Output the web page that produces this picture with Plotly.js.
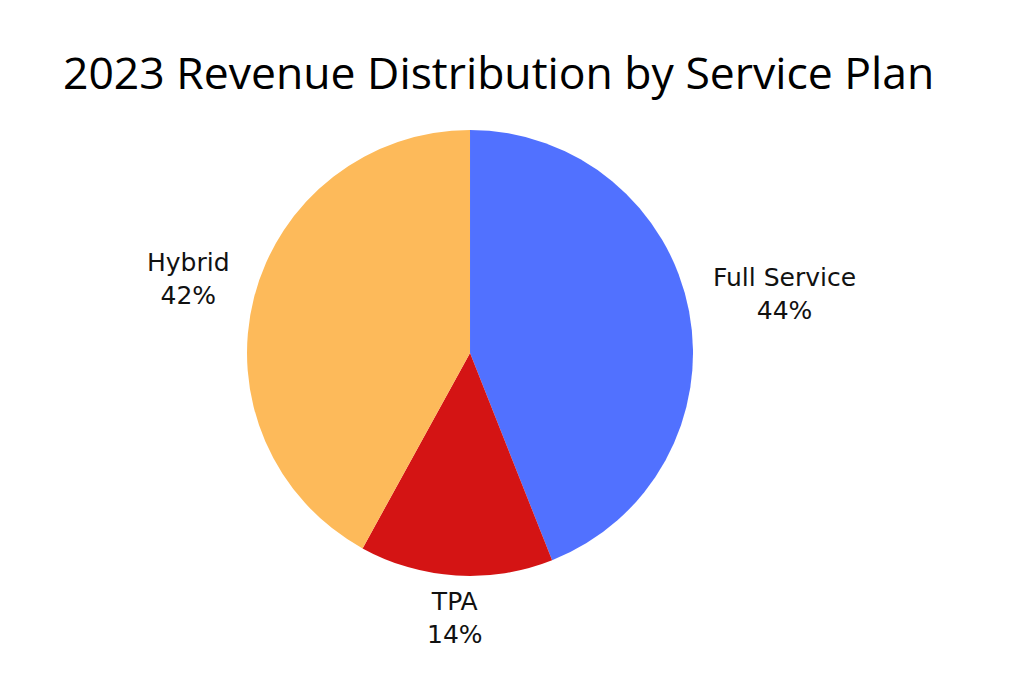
<!DOCTYPE html>
<html>
<head>
<meta charset="utf-8">
<script src="https://cdn.plot.ly/plotly-3.0.1.min.js"></script>
<style>
  html, body { margin: 0; padding: 0; background: #fff; }
  #chart { width: 1024px; height: 683px; }
</style>
</head>
<body>
<div id="chart"></div>
<script>
var plans = ['Full Service', 'TPA', 'Hybrid'];
var shares = [44, 14, 42];
var planColors = ['#5171FF', '#D41414', '#FDBA5A'];

var W = 1024, H = 683;
var pieX = [0.2412, 0.6768], pieY = [0.1567, 0.8097];

// labels sit just outside the rim, along each slice's middle angle
var total = shares.reduce(function (a, b) { return a + b; }, 0);
var cx = (pieX[0] + pieX[1]) / 2 * W;
var cy = (pieY[0] + pieY[1]) / 2 * H;
var r = (pieY[1] - pieY[0]) * H / 2;
var labelDist = 1.1;
var cum = 0;
var notes = plans.map(function (name, i) {
  var mid = (cum + shares[i] / 2) / total;
  cum += shares[i];
  var a = mid * 2 * Math.PI;
  var dx = Math.sin(a), dy = Math.cos(a);
  var below = Math.abs(dx) < 0.3;
  return {
    xref: 'paper', yref: 'paper',
    x: (cx + dx * r * labelDist) / W,
    y: (cy + dy * r * labelDist) / H,
    xanchor: below ? 'center' : (dx > 0 ? 'left' : 'right'),
    yanchor: below ? (dy < 0 ? 'top' : 'bottom') : 'middle',
    yshift: 13,
    align: 'center',
    showarrow: false,
    text: name + '<br>' + Math.round(shares[i] / total * 100) + '%',
    font: {family: 'DejaVu Sans', size: 25, color: '#111'}
  };
});

var trace = {
  type: 'pie',
  labels: plans,
  values: shares,
  sort: false,
  direction: 'clockwise',
  rotation: 0,
  marker: {colors: planColors, line: {width: 0}},
  textinfo: 'none',
  hoverinfo: 'label+percent',
  showlegend: false,
  domain: {x: pieX, y: pieY},
  automargin: false
};

var layout = {
  width: W,
  height: H,
  margin: {l: 0, r: 0, t: 0, b: 0},
  paper_bgcolor: '#ffffff',
  annotations: notes,
  title: {
    text: '2023 Revenue Distribution by Service Plan',
    font: {family: 'Open Sans', size: 44.5, color: '#000'},
    x: 0.487, xanchor: 'center',
    y: 0.892, yanchor: 'middle', yref: 'container'
  }
};

Plotly.newPlot('chart', [trace], layout, {displayModeBar: false});
</script>
</body>
</html>
